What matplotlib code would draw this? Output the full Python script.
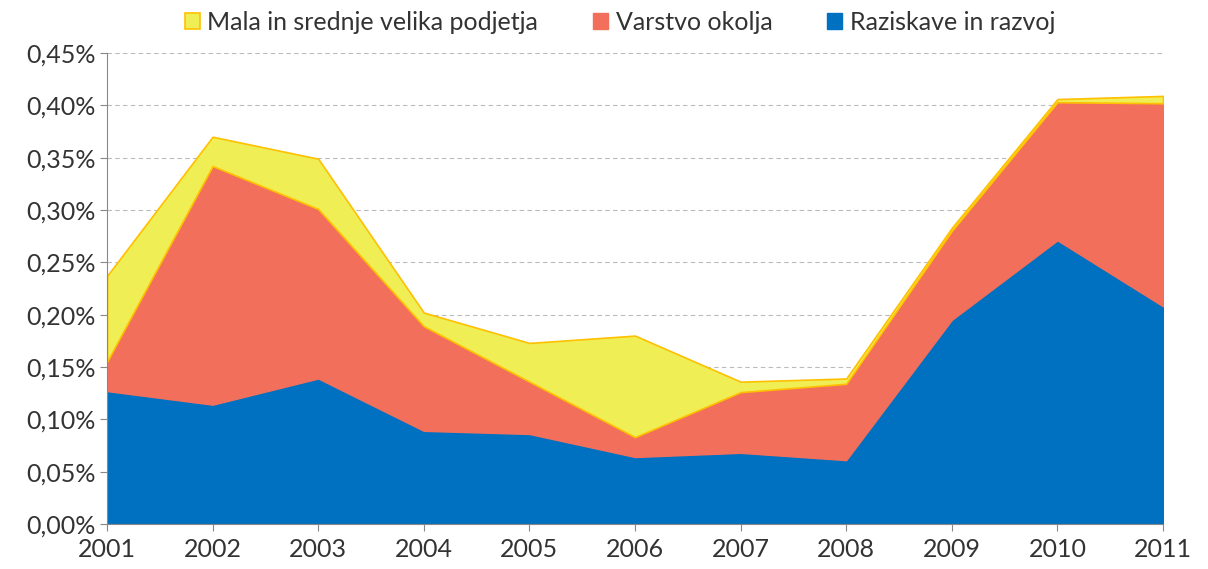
import numpy as np
import matplotlib.pyplot as plt
from matplotlib.ticker import FuncFormatter

years = [2001, 2002, 2003, 2004, 2005, 2006, 2007, 2008, 2009, 2010, 2011]
raziskave = [0.127, 0.114, 0.139, 0.089, 0.086, 0.064, 0.068, 0.061, 0.195, 0.271, 0.208]
varstvo = [0.028, 0.228, 0.162, 0.100, 0.050, 0.019, 0.058, 0.073, 0.085, 0.132, 0.194]
mala = [0.082, 0.028, 0.048, 0.013, 0.037, 0.097, 0.010, 0.005, 0.003, 0.003, 0.007]
labels = ['Raziskave in razvoj', 'Varstvo okolja', 'Mala in srednje velika podjetja']

plt.rcParams['font.family'] = ['Lato', 'DejaVu Sans']

fig = plt.figure(figsize=(12.08, 5.69), dpi=100)
ax = fig.add_axes([107 / 1208, 1 - 524 / 569, (1163 - 107) / 1208, (524 - 53) / 569])

polys = ax.stackplot(years, raziskave, varstvo, mala,
                     colors=['#0070C0', '#F26F5B', '#EFEE55'], labels=labels)
polys[0].set_edgecolor('#0070C0')
polys[1].set_edgecolor('#F26F5B')
polys[2].set_edgecolor('#FFC000')
polys[2].set_linewidth(1.2)

ax.set_xlim(2001, 2011)
ax.set_ylim(0, 0.45)
ax.set_yticks(np.arange(0, 0.451, 0.05))
ax.set_xticks(years)
ax.yaxis.set_major_formatter(FuncFormatter(lambda v, p: ('%.2f%%' % v).replace('.', ',')))
ax.grid(axis='y', color='#BBBBBB', linestyle=(0, (4, 3)), linewidth=0.8)
ax.set_axisbelow(True)
for s in ['top', 'right']:
    ax.spines[s].set_visible(False)
ax.spines['left'].set_color('#888888')
ax.spines['bottom'].set_color('#888888')
ax.tick_params(colors='#888888', labelcolor='#333333', labelsize=18, length=5)
ax.tick_params(axis='x', pad=5)
ax.tick_params(axis='y', pad=3)

handles, labs = ax.get_legend_handles_labels()
leg = fig.legend(handles[::-1], labs[::-1], loc='center', bbox_to_anchor=(620 / 1208, 1 - 22 / 569),
                 ncol=3, frameon=False, fontsize=18, handlelength=0.6, handleheight=0.6,
                 handletextpad=0.3, columnspacing=2.2, labelcolor='#333333')

plt.savefig('out.png', dpi=100)
